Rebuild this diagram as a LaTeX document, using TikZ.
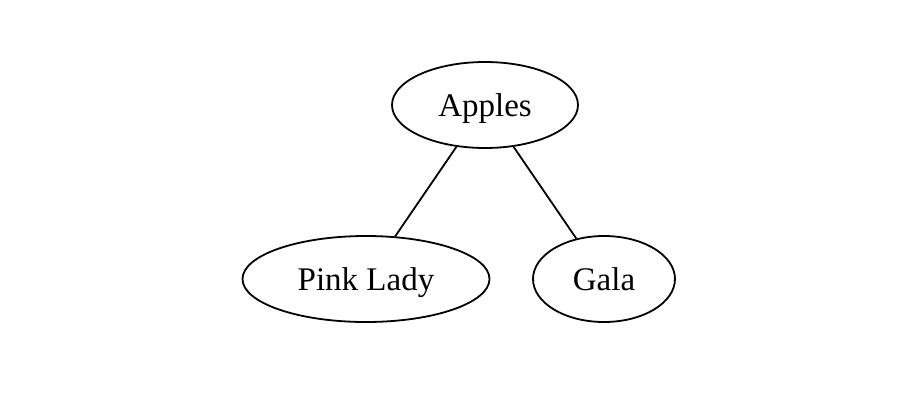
\documentclass[tikz,border=0pt]{standalone}
\usepackage{fontspec}
\setmainfont{Liberation Serif}
\usetikzlibrary{shapes.geometric}
\begin{document}
\begin{tikzpicture}[x=1pt,y=-1pt,
  fruit/.style={draw, ellipse, line width=1.8pt, inner sep=0pt, minimum height=86pt, text height=26pt, text depth=4pt, font=\fontsize{33}{40}\selectfont},
  link/.style={line width=1.8pt}]
\useasboundingbox (0,0) rectangle (922,408);
\node[fruit, minimum width=186pt] (apples) at (485,105) {Apples};
\node[fruit, minimum width=247pt] (pink) at (366,279) {Pink Lady};
\node[fruit, minimum width=142pt] (gala) at (604,279) {Gala};
\draw[link] (apples) -- (pink);
\draw[link] (apples) -- (gala);
\end{tikzpicture}
\end{document}
